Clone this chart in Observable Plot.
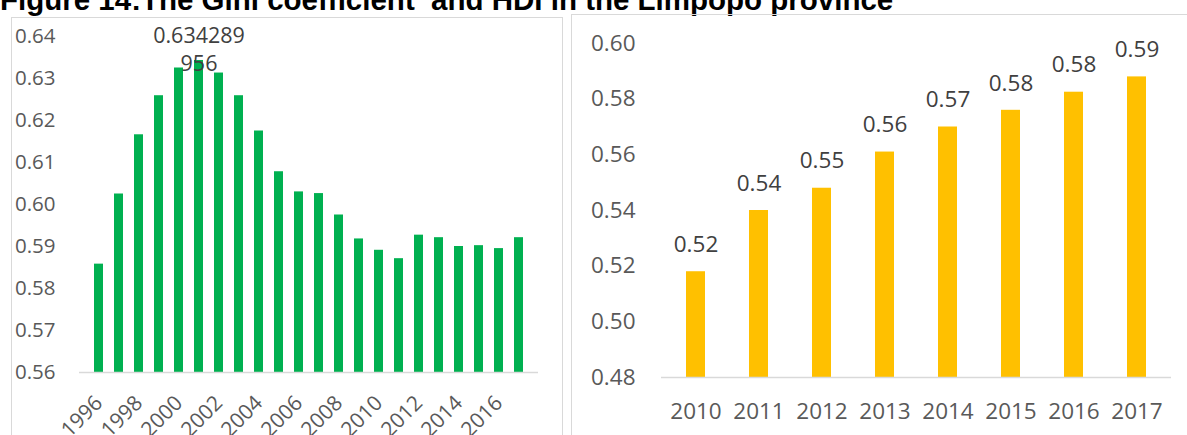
<!DOCTYPE html>
<html><head><meta charset="utf-8">
<script src="https://cdn.jsdelivr.net/npm/d3@7"></script>
<script src="https://cdn.jsdelivr.net/npm/@observablehq/plot@0.6"></script>
<style>
html,body{margin:0;padding:0;width:1187px;height:435px;overflow:hidden;background:#fff;}
#title{position:absolute;left:0;top:-15.5px;font-family:"Liberation Sans",Arial,sans-serif;font-weight:bold;font-size:29.5px;line-height:1;white-space:pre;color:#000;}
.panel{position:absolute;border:1px solid #d9d9d9;box-sizing:border-box;}
#leftBox{left:11px;top:17px;width:552px;height:500px;}
#rightBox{left:571px;top:14px;width:700px;height:500px;}
#c1{position:absolute;left:0;top:0;}
#c2{position:absolute;left:566px;top:0;}
</style></head>
<body>
<div id="title">Figure 14:The Gini coefficient  and HDI in the Limpopo province</div>
<div class="panel" id="leftBox"></div>
<div class="panel" id="rightBox"></div>
<div id="c1"></div>
<div id="c2"></div>
<script>
// Gini coefficient (left panel)
const giniYears = [1996,1997,1998,1999,2000,2001,2002,2003,2004,2005,2006,2007,2008,2009,2010,2011,2012,2013,2014,2015,2016,2017];
const giniValues = [0.5858,0.6025,0.6166,0.6259,0.6325,0.634289956,0.6313,0.6259,0.6175,0.6078,0.6030,0.6026,0.5975,0.5918,0.5891,0.5871,0.5927,0.5921,0.5900,0.5902,0.5895,0.5921];
const giniTickYears = [1996,1998,2000,2002,2004,2006,2008,2010,2012,2014,2016];
const giniYTicks = [0.56,0.57,0.58,0.59,0.60,0.61,0.62,0.63,0.64];
const giniLabelYear = 2001;
const giniLabelText = "0.634289\n956";

// HDI (right panel)
const hdiYears = [2010,2011,2012,2013,2014,2015,2016,2017];
const hdiValues = [0.518,0.540,0.548,0.561,0.570,0.576,0.5825,0.588];
const hdiYTicks = [0.48,0.50,0.52,0.54,0.56,0.58,0.60];

const fmt2 = d3.format(".2f");
const giniData = giniYears.map((year, i) => ({year, value: giniValues[i]}));
const hdiData = hdiYears.map((year, i) => ({year, value: hdiValues[i]}));
const giniLabel = giniData.filter(d => d.year === giniLabelYear);

const c1 = Plot.plot({
  width: 566, height: 435,
  marginLeft: 79, marginRight: 28, marginTop: 36, marginBottom: 63,
  style: {fontFamily: "'Open Sans', sans-serif", fontSize: "20.5px", color: "#595959", background: "transparent", overflow: "visible"},
  x: {type: "band", domain: giniYears, paddingInner: 0.57, paddingOuter: 0.285, axis: null},
  y: {domain: [0.56, 0.64], axis: null},
  marks: [
    Plot.barY(giniData, {x: "year", y1: giniYTicks[0], y2: "value", fill: "#00B050"}),
    Plot.ruleY([giniYTicks[0]], {stroke: "#d9d9d9", strokeWidth: 1.5}),
    Plot.axisY(giniYTicks, {tickSize: 0, tickPadding: 24, tickFormat: fmt2, label: null}),
    Plot.axisX(giniTickYears, {tickSize: 0, tickPadding: 27, tickRotate: -45, tickFormat: d => String(d), label: null, fontSize: 21}),
    Plot.text(giniLabel, {x: "year", y: "value", text: () => giniLabelText, dy: -12, lineHeight: 1.3, fontSize: 21.5, fill: "#404040"})
  ]
});
document.getElementById("c1").appendChild(c1);

const c2 = Plot.plot({
  width: 621, height: 435,
  marginLeft: 95, marginRight: 16, marginTop: 43, marginBottom: 58,
  style: {fontFamily: "'Open Sans', sans-serif", fontSize: "22.5px", color: "#595959", background: "transparent", overflow: "visible"},
  x: {type: "band", domain: hdiYears, paddingInner: 0.695, paddingOuter: 0.3475, axis: null},
  y: {domain: [0.48, 0.60], axis: null},
  marks: [
    Plot.barY(hdiData, {x: "year", y1: hdiYTicks[0], y2: "value", fill: "#FFC000"}),
    Plot.ruleY([hdiYTicks[0]], {stroke: "#d9d9d9", strokeWidth: 1.5}),
    Plot.axisY(hdiYTicks, {tickSize: 0, tickPadding: 26, tickFormat: fmt2, label: null}),
    Plot.axisX(hdiYears, {tickSize: 0, tickPadding: 26, tickFormat: d => String(d), label: null}),
    Plot.text(hdiData, {x: "year", y: "value", text: d => fmt2(d.value), dy: -27, fill: "#404040"})
  ]
});
document.getElementById("c2").appendChild(c2);
</script>
</body></html>
